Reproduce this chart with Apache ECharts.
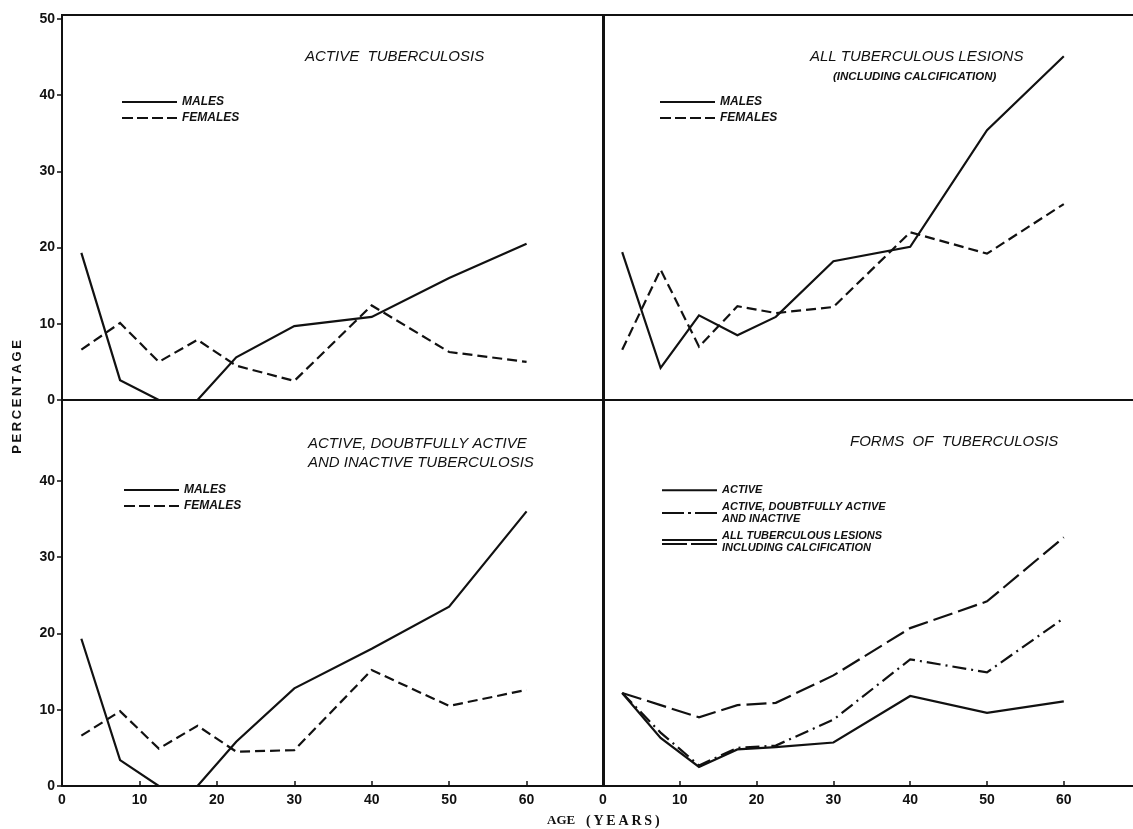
<!DOCTYPE html>
<html>
<head>
<meta charset="utf-8">
<script src="https://cdn.jsdelivr.net/npm/echarts@6/dist/echarts.min.js"></script>
<style>html,body{margin:0;padding:0;background:#fff}#c{width:1133px;height:829px}</style>
</head>
<body>
<div id="c"></div>
<script>
// ---- data ----
const ages = [2.5, 7.5, 12.5, 17.5, 22.5, 30, 40, 50, 60];
const xTicks = [0, 10, 20, 30, 40, 50, 60];
const yTicksTop = [0, 10, 20, 30, 40, 50];
const yTicksBottom = [0, 10, 20, 30, 40];

const activeMales      = [19.3, 2.6, 0, 0, 5.6, 9.7, 10.9, 16.0, 20.5];
const activeFemales    = [6.6, 10.1, 5.0, 7.9, 4.5, 2.5, 12.4, 6.3, 5.0];
const lesionsMales     = [19.4, 4.2, 11.1, 8.5, 10.9, 18.2, 20.1, 35.4, 45.1];
const lesionsFemales   = [6.6, 17.1, 7.0, 12.3, 11.4, 12.2, 22.0, 19.2, 25.7];
const adiMales         = [19.3, 3.4, 0, 0, 5.8, 12.8, 18.0, 23.5, 36.0];
const adiFemales       = [6.6, 9.8, 4.9, 7.9, 4.5, 4.7, 15.2, 10.5, 12.6];
const formsActive      = [12.2, 6.3, 2.5, 4.8, 5.1, 5.7, 11.8, 9.6, 11.1];
const formsADI         = [12.2, 7.0, 2.7, 5.0, 5.3, 8.7, 16.6, 14.9, 22.0];
const formsAll         = [12.2, 10.6, 9.0, 10.6, 10.9, 14.5, 20.7, 24.2, 32.6];

const panelTitles = ['ACTIVE  TUBERCULOSIS', 'ALL TUBERCULOUS LESIONS', 'ACTIVE, DOUBTFULLY ACTIVE\nAND INACTIVE TUBERCULOSIS', 'FORMS  OF  TUBERCULOSIS'];
const subTitle = '(INCLUDING CALCIFICATION)';
const nMales = 'MALES', nFemales = 'FEMALES';
const nActive = 'ACTIVE';
const nADI = 'ACTIVE, DOUBTFULLY ACTIVE\nAND INACTIVE';
const nAll = 'ALL TUBERCULOUS LESIONS\nINCLUDING CALCIFICATION';

// ---- styling ----
const INK = '#111';
const SANS = '"Liberation Sans", Arial, sans-serif';
const SERIF = '"Liberation Serif", "Times New Roman", serif';
const pts = v => ages.map((a, i) => [a, v[i]]);

// legend icons (line samples)
const ICON_SOLID  = 'path://M0 0H55V1.8H0Z';
const ICON_DASH   = 'path://M0 0H11V1.8H0Z M15 0H26V1.8H15Z M30 0H41V1.8H30Z M45 0H55V1.8H45Z';
const ICON_DDOT   = 'path://M0 0H22V1.8H0Z M26 0H29V1.8H26Z M33 0H55V1.8H33Z';
const ICON_DOUBLE = 'path://M0 0H55V1.8H0Z M0 4H25V5.8H0Z M29 4H55V5.8H29Z';

const grids = [
  {left: 62,  top: 15,  width: 542,   height: 385},
  {left: 603, top: 15,  width: 537.6, height: 385},
  {left: 62,  top: 400, width: 542,   height: 386},
  {left: 603, top: 400, width: 537.6, height: 386}
].map(g => Object.assign(g, {show: true, borderColor: INK, borderWidth: 2, backgroundColor: 'transparent',
                             containLabel: false, outerBoundsMode: 'none'}));

function xAxis(i) {
  const bottom = i >= 2;
  return {
    type: 'value', gridIndex: i, min: 0, max: 70, interval: 10,
    axisLine: {show: true, onZero: false, lineStyle: {color: INK, width: 2}},
    axisTick: {show: bottom, inside: true, length: 5, customValues: xTicks, lineStyle: {color: INK, width: 1.5}},
    axisLabel: {show: bottom, customValues: xTicks, margin: 7, color: INK, fontFamily: SANS, fontWeight: 'bold', fontSize: 14},
    splitLine: {show: false}
  };
}
function yAxis(i) {
  const left = (i % 2) === 0;
  const top = i < 2;
  const vals = top ? yTicksTop : yTicksBottom;
  return {
    type: 'value', gridIndex: i, min: 0, max: top ? 50.5 : 50.6, interval: 10,
    axisLine: {show: true, onZero: false, lineStyle: {color: INK, width: 2}},
    axisTick: {show: left, inside: false, length: 5, customValues: vals, lineStyle: {color: INK, width: 1.5}},
    axisLabel: {show: left, customValues: vals, margin: 7, color: INK, fontFamily: SANS, fontWeight: 'bold', fontSize: 14},
    splitLine: {show: false}
  };
}

function line(name, data, idx, type) {
  return {
    name, type: 'line', xAxisIndex: idx, yAxisIndex: idx, data: pts(data),
    symbol: 'none', animation: false, silent: true,
    lineStyle: {color: INK, width: 2.2, type: type || 'solid', cap: 'butt', join: 'miter'},
    itemStyle: {color: INK}
  };
}

const legendText = {color: INK, fontFamily: SANS, fontStyle: 'italic', fontWeight: 'bold', fontSize: 12, lineHeight: 14};
function legend(left, top, data, extra) {
  return Object.assign({
    orient: 'vertical', left, top, itemWidth: 55, itemHeight: 14, itemGap: 2,
    selectedMode: false, padding: 0, textStyle: legendText, data,
    itemStyle: {color: INK, borderWidth: 0}
  }, extra || {});
}
const mf = [{name: nMales, icon: ICON_SOLID}, {name: nFemales, icon: ICON_DASH}];

const titleStyle = {color: INK, fontFamily: SANS, fontStyle: 'italic', fontWeight: 'normal', fontSize: 15, lineHeight: 19};

const option = {
  backgroundColor: '#fff',
  animation: false,
  title: [
    {text: panelTitles[0], left: 305, top: 47, padding: 0, textStyle: titleStyle},
    {text: panelTitles[1], left: 810, top: 47, padding: 0, textStyle: titleStyle},
    {text: subTitle, left: 833, top: 67, padding: 0, textStyle: Object.assign({}, titleStyle, {fontSize: 11.5, fontWeight: 'bold'})},
    {text: panelTitles[2], left: 308, top: 434, padding: 0, textStyle: titleStyle},
    {text: panelTitles[3], left: 850, top: 432, padding: 0, textStyle: titleStyle},
    {text: '{b|AGE}\u2009\u2009\u2009{r|(\u2009Y\u2009E\u2009A\u2009R\u2009S\u2009)}', left: 547, top: 812, padding: 0,
     textStyle: {rich: {b: {fontFamily: SERIF, fontWeight: 'bold', fontSize: 13, color: INK},
                        r: {fontFamily: SERIF, fontSize: 14, color: INK}}}}
  ],
  legend: [
    legend(122, 95, mf),
    legend(660, 95, mf),
    legend(124, 483, mf),
    legend(662, 484, [
      {name: nActive, icon: ICON_SOLID},
      {name: nADI, icon: ICON_DDOT},
      {name: nAll, icon: ICON_DOUBLE}
    ], {itemGap: 4, textStyle: Object.assign({}, legendText, {fontSize: 11, lineHeight: 12.5})})
  ],
  grid: grids,
  xAxis: [0, 1, 2, 3].map(xAxis),
  yAxis: [0, 1, 2, 3].map(yAxis),
  graphic: [
    {type: 'text', left: 11, top: 340, rotation: Math.PI / 2,
     style: {text: 'P\u2009E\u2009R\u2009C\u2009E\u2009N\u2009T\u2009A\u2009G\u2009E', fill: INK, font: 'bold 13px ' + SANS}}
  ],
  series: [
    line(nMales, activeMales, 0),
    line(nFemales, activeFemales, 0, [10, 5]),
    line(nMales, lesionsMales, 1),
    line(nFemales, lesionsFemales, 1, [10, 5]),
    line(nMales, adiMales, 2),
    line(nFemales, adiFemales, 2, [10, 5]),
    line(nActive, formsActive, 3),
    line(nADI, formsADI, 3, [14, 5, 2, 5]),
    line(nAll, formsAll, 3, [20, 6])
  ]
};

const chart = echarts.init(document.getElementById('c'), null, {renderer: 'canvas'});
chart.setOption(option);
</script>
</body>
</html>
